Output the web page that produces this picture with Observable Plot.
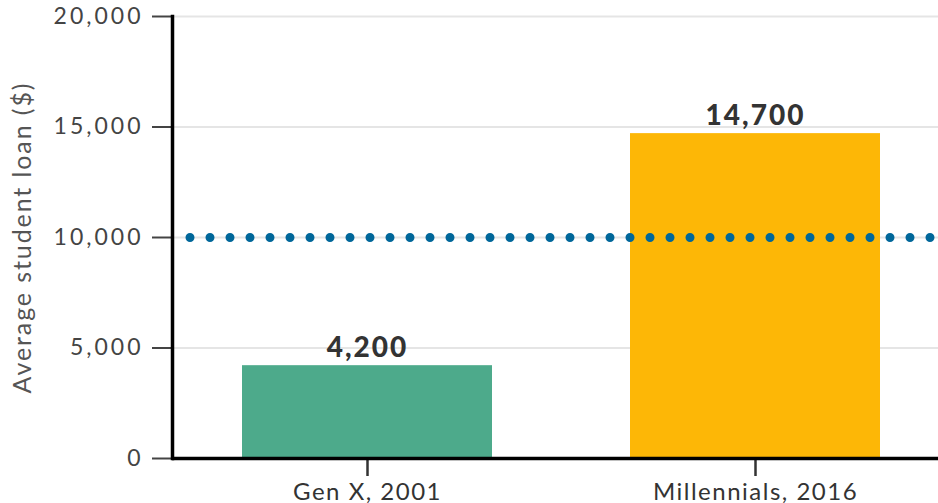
<!DOCTYPE html>
<html>
<head>
<meta charset="utf-8">
<script src="https://cdn.jsdelivr.net/npm/d3@7"></script>
<script src="https://cdn.jsdelivr.net/npm/@observablehq/plot@0.6"></script>
<style>
  html, body { margin: 0; padding: 0; background: #fff; overflow: hidden; }
  #chart svg { font-family: Lato, "Open Sans", sans-serif; overflow: visible; }
  #chart g[aria-label="y-axis tick label"] text { letter-spacing: 3px; }
  #chart g[aria-label="x-axis tick label"] text { letter-spacing: 1.5px; }
  #chart text[aria-label="value label"] { letter-spacing: 2px; }
  #chart text[aria-label="y title"] { letter-spacing: 1.9px; }
</style>
</head>
<body>
<div id="chart"></div>
<script>
const categories = ["Gen X, 2001", "Millennials, 2016"];
const loans = [4200, 14700];
const barColors = ["#4DAA8B", "#FDB706"];
const referenceValue = [10000];
const yTicks = [0, 5000, 10000, 15000, 20000];
const yLabel = ["Average student loan ($)"];

const data = categories.map((c, i) => ({category: c, loan: loans[i], color: barColors[i]}));
const fmt = d3.format(",");

const chart = Plot.plot({
  width: 938,
  height: 503,
  marginLeft: 172,
  marginRight: 0,
  marginTop: 16,
  marginBottom: 45,
  x: {domain: categories, range: [172, 950], paddingInner: 0.356, paddingOuter: 0.18},
  y: {domain: [0, 20000]},
  marks: [
    Plot.gridY({ticks: yTicks.slice(1), stroke: "#e5e5e5", strokeOpacity: 1, strokeWidth: 2}),
    Plot.barY(data, {x: "category", y: "loan", fill: "color"}),
    Plot.ruleY(referenceValue, {stroke: "#00679A", strokeWidth: 9, strokeLinecap: "round", strokeDasharray: "0 20", strokeDashoffset: 2}),
    Plot.text(data, {x: "category", y: "loan", text: d => fmt(d.loan), lineAnchor: "bottom", dy: -9, fontSize: 28, fontWeight: 900, fill: "#333", ariaLabel: () => "value label"}),
    Plot.axisY({ticks: yTicks, tickFormat: fmt, tickSize: 20, tickPadding: 9, fontSize: 23, color: "#444", strokeWidth: 2, label: null}),
    Plot.text(yLabel, {frameAnchor: "left", rotate: -90, dx: -150, textAnchor: "middle", lineAnchor: "middle", fontSize: 25, fill: "#555", ariaLabel: () => "y title"}),
    Plot.axisX({tickSize: 18, tickPadding: 6, fontSize: 24, color: "#333", strokeWidth: 2.5, label: null}),
    Plot.ruleY([0], {stroke: "#000", strokeWidth: 3.5}),
    Plot.frame({anchor: "left", stroke: "#000", strokeWidth: 3.5})
  ]
});
document.getElementById("chart").appendChild(chart);
</script>
</body>
</html>
